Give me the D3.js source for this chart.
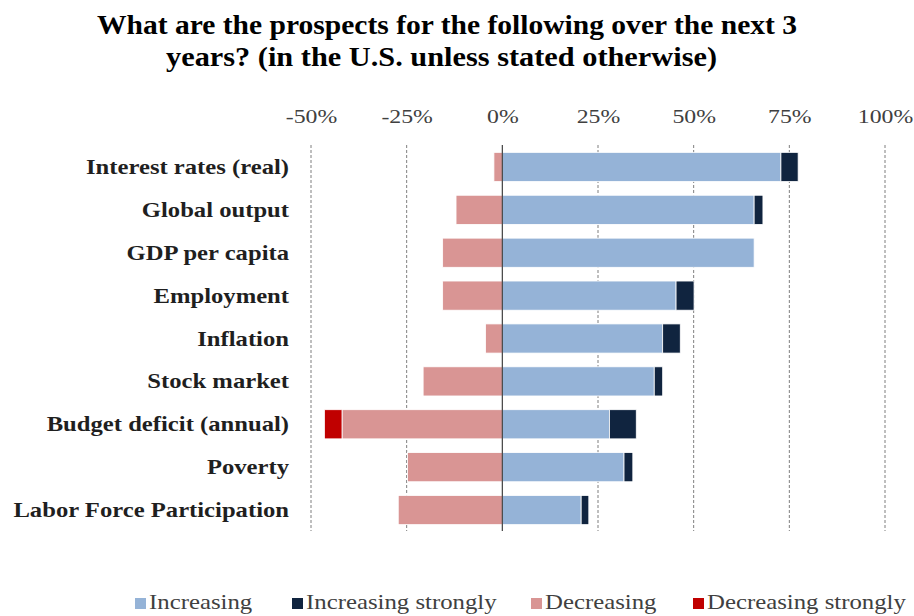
<!DOCTYPE html>
<html>
<head>
<meta charset="utf-8">
<script src="https://d3js.org/d3.v7.min.js"></script>
<title>Prospects</title>
<style>
  body { margin: 0; background: #fff; }
  text { font-family: "Liberation Serif", "Times New Roman", serif; }
  .grid line { stroke: #7f7f7f; stroke-dasharray: 3,2; }
</style>
</head>
<body>
<script>
var categories = ["Interest rates (real)", "Global output", "GDP per capita", "Employment",
  "Inflation", "Stock market", "Budget deficit (annual)", "Poverty", "Labor Force Participation"];
var increasing = [72.8, 65.8, 65.8, 45.4, 41.9, 39.7, 28.0, 31.8, 20.6];
var increasingStrongly = [4.5, 2.3, 0, 4.7, 4.6, 2.2, 7.0, 2.3, 2.0];
var decreasing = [2.2, 12.1, 15.6, 15.6, 4.4, 20.7, 41.9, 24.8, 27.2];
var decreasingStrongly = [0, 0, 0, 0, 0, 0, 4.6, 0, 0];
var tickValues = [-50, -25, 0, 25, 50, 75, 100];
var seriesNames = ["Increasing", "Increasing strongly", "Decreasing", "Decreasing strongly"];
var colors = ["#95b3d7", "#10243f", "#d99594", "#c00000"];

var width = 914, height = 616;
var svg = d3.select("body").append("svg")
  .attr("width", width)
  .attr("height", height);

// the original font is drawn wider than Liberation Serif, so stretch text a bit
function stretch(sel, k) {
  sel.each(function () {
    var w = this.getComputedTextLength();
    d3.select(this).attr("textLength", w * k).attr("lengthAdjust", "spacingAndGlyphs");
  });
}

var x = d3.scaleLinear().domain([-50, 100]).range([311, 885]);
var y = d3.scaleBand().domain(categories).range([145.5, 531.5]).paddingInner(0.32).paddingOuter(0.16);

// title
svg.append("text").attr("x", 447).attr("y", 34).attr("text-anchor", "middle")
  .style("font-size", "28px").style("font-weight", "bold")
  .attr("textLength", 700).attr("lengthAdjust", "spacingAndGlyphs")
  .text("What are the prospects for the following over the next 3");
svg.append("text").attr("x", 441.5).attr("y", 66).attr("text-anchor", "middle")
  .style("font-size", "28px").style("font-weight", "bold")
  .attr("textLength", 551).attr("lengthAdjust", "spacingAndGlyphs")
  .text("years? (in the U.S. unless stated otherwise)");

// gridlines
svg.append("g").attr("class", "grid")
  .selectAll("line").data(tickValues.filter(function (d) { return d !== 0; }))
  .enter().append("line")
  .attr("x1", function (d) { return x(d); })
  .attr("x2", function (d) { return x(d); })
  .attr("y1", 145).attr("y2", 531);

// top axis labels
var xAxis = d3.axisTop(x).tickValues(tickValues).tickSize(0)
  .tickFormat(function (d) { return d + "%"; });
var xAxisG = svg.append("g").attr("transform", "translate(0,126)").call(xAxis);
xAxisG.select(".domain").remove();
xAxisG.selectAll("text").style("font-size", "19px").style("font-family", "Liberation Serif").attr("fill", "#404040");
stretch(xAxisG.selectAll("text"), 1.25);

// bars
var rows = categories.map(function (c, i) {
  return [
    { cat: c, s: 0, x0: 0, x1: increasing[i] },
    { cat: c, s: 1, x0: increasing[i], x1: increasing[i] + increasingStrongly[i] },
    { cat: c, s: 2, x0: -decreasing[i], x1: 0 },
    { cat: c, s: 3, x0: -decreasing[i] - decreasingStrongly[i], x1: -decreasing[i] }
  ];
});
var segs = [].concat.apply([], rows).filter(function (d) { return d.x1 > d.x0; });

svg.append("g").selectAll("rect").data(segs).enter().append("rect")
  .attr("x", function (d) { return x(d.x0); })
  .attr("width", function (d) { return x(d.x1) - x(d.x0); })
  .attr("y", function (d) { return y(d.cat); })
  .attr("height", y.bandwidth())
  .attr("fill", function (d) { return colors[d.s]; })
  .attr("stroke", "#ffffff").attr("stroke-width", 0.8);

// zero line
svg.append("line").attr("x1", x(0)).attr("x2", x(0)).attr("y1", 145).attr("y2", 531)
  .attr("stroke", "#404040").attr("stroke-width", 1.2);

// category labels
var yAxis = d3.axisLeft(y).tickSize(0).tickPadding(0);
var yAxisG = svg.append("g").attr("transform", "translate(289,0)").call(yAxis);
yAxisG.select(".domain").remove();
yAxisG.selectAll("text").style("font-size", "22px").style("font-weight", "bold")
  .style("font-family", "Liberation Serif").attr("fill", "#1f1f1f");
stretch(yAxisG.selectAll("text"), 1.12);

// legend
var legendX = [135, 292, 531, 693];
var legend = svg.append("g").selectAll("g").data(seriesNames).enter().append("g")
  .attr("transform", function (d, i) { return "translate(" + legendX[i] + ",609)"; });
legend.append("rect").attr("x", 0).attr("y", -11).attr("width", 11).attr("height", 11)
  .attr("fill", function (d, i) { return colors[i]; });
var legendText = legend.append("text").attr("x", 14).attr("y", 0)
  .style("font-size", "21px").attr("fill", "#404040")
  .text(function (d) { return d; });
stretch(legendText, 1.18);
</script>
</body>
</html>
